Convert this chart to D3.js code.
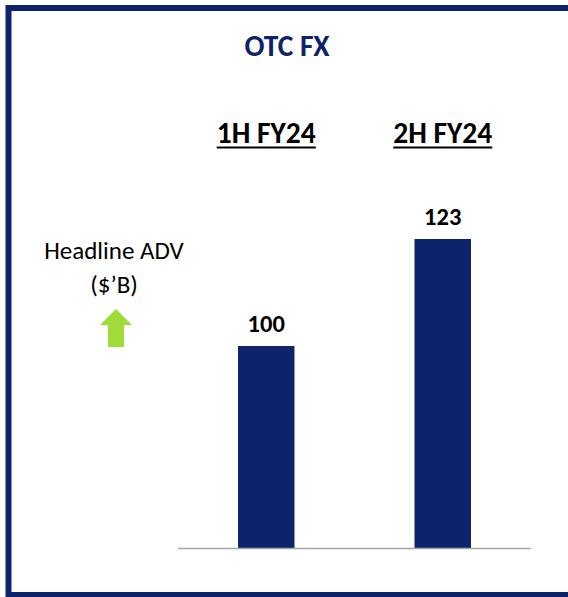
<!DOCTYPE html>
<html>
<head>
<meta charset="utf-8">
<script src="https://cdn.jsdelivr.net/npm/d3@7"></script>
<style>
  body { margin: 0; background: #fff; }
  text { font-family: Carlito, Lato, "Open Sans", sans-serif; }
</style>
</head>
<body>
<div id="chart"></div>
<script>
const title = "OTC FX";
const periods = ["1H FY24", "2H FY24"];
const adv = [100, 123];
const measureLines = ["Headline ADV", "($\u2019B)"];

const W = 568, H = 597;
const navy = "#0d236b";

const svg = d3.select("#chart").append("svg")
    .attr("width", W)
    .attr("height", H);

// frame, right edge runs off the page
svg.append("rect")
    .attr("x", 8.5).attr("y", 8)
    .attr("width", W + 20).attr("height", 587)
    .attr("fill", "none")
    .attr("stroke", navy)
    .attr("stroke-width", 6);

svg.append("text")
    .attr("x", 287).attr("y", 56)
    .attr("text-anchor", "middle")
    .attr("font-size", 29.5).attr("font-weight", "bold")
    .attr("fill", navy)
    .text(title);

let x = d3.scaleBand()
    .domain(periods)
    .range([178, 531])
    .paddingInner(0.68)
    .paddingOuter(0.34);

// axis does not start at zero in the original
let y = d3.scaleLinear()
    .domain([56.6, 123])
    .range([548, 239]);

// period headers, underlined
periods.forEach(function(p) {
    let t = svg.append("text")
        .attr("x", x(p) + x.bandwidth() / 2)
        .attr("y", 143)
        .attr("text-anchor", "middle")
        .attr("font-size", 29.5).attr("font-weight", "bold")
        .attr("fill", "#000")
        .text(p);
    let bb = t.node().getBBox();
    svg.append("line")
        .attr("x1", bb.x).attr("x2", bb.x + bb.width)
        .attr("y1", 147.5).attr("y2", 147.5)
        .attr("stroke", "#000").attr("stroke-width", 2);
});

svg.append("g").selectAll("rect")
    .data(adv).enter()
    .append("rect")
    .attr("x", (d, i) => x(periods[i]))
    .attr("y", d => y(d))
    .attr("width", x.bandwidth())
    .attr("height", d => 548 - y(d))
    .attr("fill", navy);

svg.append("g").selectAll("text")
    .data(adv).enter()
    .append("text")
    .attr("x", (d, i) => x(periods[i]) + x.bandwidth() / 2)
    .attr("y", d => y(d) - 14)
    .attr("text-anchor", "middle")
    .attr("font-size", 24.5).attr("font-weight", "bold")
    .attr("fill", "#000")
    .text(d => d);

svg.append("line")
    .attr("x1", 178).attr("x2", 531)
    .attr("y1", 548.5).attr("y2", 548.5)
    .attr("stroke", "#a6a6a6").attr("stroke-width", 1.5);

svg.append("g").selectAll("text")
    .data(measureLines).enter()
    .append("text")
    .attr("x", 114)
    .attr("y", (d, i) => 259 + i * 34)
    .attr("text-anchor", "middle")
    .attr("font-size", 25)
    .attr("fill", "#000")
    .text(d => d);

// green up arrow
svg.append("path")
    .attr("d", "M116,309 L132,325 L124,325 L124,347 L108,347 L108,325 L100,325 Z")
    .attr("fill", "#9fdc3a");
</script>
</body>
</html>
